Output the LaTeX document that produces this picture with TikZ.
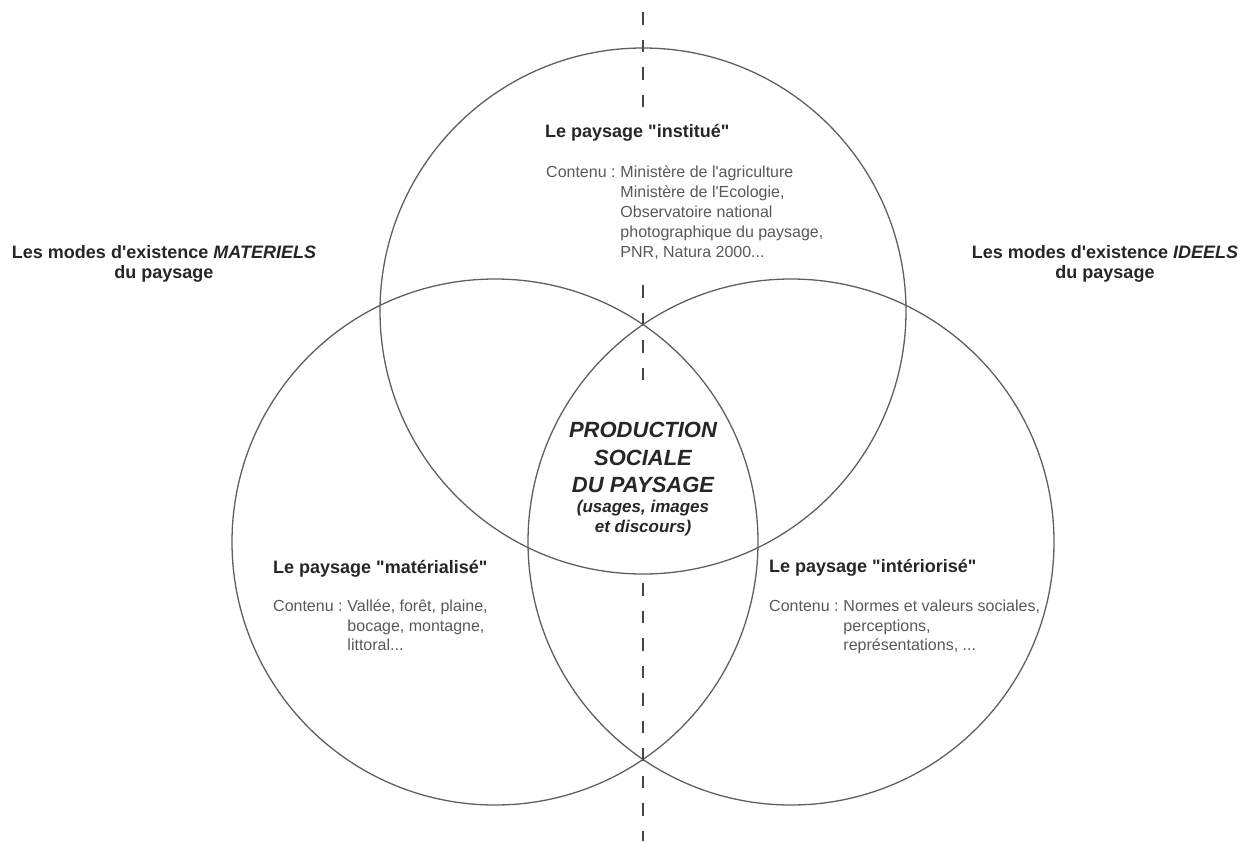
\documentclass[tikz,border=0pt]{standalone}
\usepackage{fontspec}
\setmainfont{Liberation Sans}[Ligatures=TeXOff]
\usetikzlibrary{positioning}
\definecolor{gristrait}{RGB}{95,95,95}
\definecolor{grisfonce}{RGB}{38,38,38}
\definecolor{gristexte}{RGB}{88,88,88}
\definecolor{grisaxe}{RGB}{70,70,70}

\begin{document}
\begin{tikzpicture}[x=1pt,y=-1pt,
		cercle/.style={draw=gristrait, line width=1.3pt, circle, minimum size=526pt, inner sep=0pt},
		titre/.style={font=\fontsize{18}{20}\selectfont\bfseries, text=grisfonce, inner sep=0pt},
		centre/.style={font=\fontsize{22}{27.5}\selectfont\bfseries\itshape, text=grisfonce, inner sep=0pt, align=center},
		contenu/.style={font=\fontsize{16}{20}\selectfont, text=gristexte, inner sep=0pt, align=left},
		axe/.style={grisaxe, line width=2.5pt, dash pattern=on 12.5pt off 15pt}]
	\useasboundingbox (0,0) rectangle (1247,841);

	% les trois cercles
	\node[cercle] (cinst) at (643,311) {};
	\node[cercle] (cmat) at (495,542) {};
	\node[cercle] (cint) at (791,542) {};

	% axe vertical
	\coordinate (h1) at (643,12); \coordinate (h2) at (643,108);
	\coordinate (m1) at (643,285); \coordinate (m2) at (643,381);
	\coordinate (b1) at (643,583); \coordinate (b2) at (643,841);
	\draw[axe] (h1) -- (h2);
	\draw[axe] (m1) -- (m2);
	\draw[axe] (b1) -- (b2);

	% modes d'existence
	\node[titre, align=center] (lmat) at (164,264) {Les modes d'existence \textit{MATERIELS}\\du paysage};
	\node[titre, align=center] (lide) at (1105,264) {Les modes d'existence \textit{IDEELS}\\du paysage};

	% paysage institue
	\node[titre, anchor=west] (tinst) at (545,133) {Le paysage "institué"};
	\node[contenu, anchor=north west] (cinst1) at (546,166) {Contenu :};
	\node[contenu, right=4.5pt of cinst1.north east, anchor=north west] (cinst2) {Ministère de l'agriculture\\Ministère de l'Ecologie,\\Observatoire national\\photographique du paysage,\\PNR, Natura 2000...};

	% paysage materialise
	\node[titre, anchor=west] (tmat) at (273,569) {Le paysage "matérialisé"};
	\node[contenu, anchor=north west] (cmat1) at (273,600) {Contenu :};
	\node[contenu, font=\fontsize{16}{19.5}\selectfont, right=4.5pt of cmat1.north east, anchor=north west] (cmat2) {Vallée, forêt, plaine,\\bocage, montagne,\\littoral...};

	% paysage interiorise
	\node[titre, anchor=west] (tint) at (769,568) {Le paysage "intériorisé"};
	\node[contenu, anchor=north west] (cint1) at (769,600) {Contenu :};
	\node[contenu, font=\fontsize{16}{19.5}\selectfont, right=4.5pt of cint1.north east, anchor=north west] (cint2) {Normes et valeurs sociales,\\perceptions,\\représentations, ...};

	% centre
	\node[centre] (prod) at (643,457.5) {PRODUCTION\\SOCIALE\\DU PAYSAGE};
	\node[centre, font=\fontsize{17}{20}\selectfont\bfseries\itshape, below=7pt of prod] (usages) {(usages, images\\et discours)};
\end{tikzpicture}
\end{document}
